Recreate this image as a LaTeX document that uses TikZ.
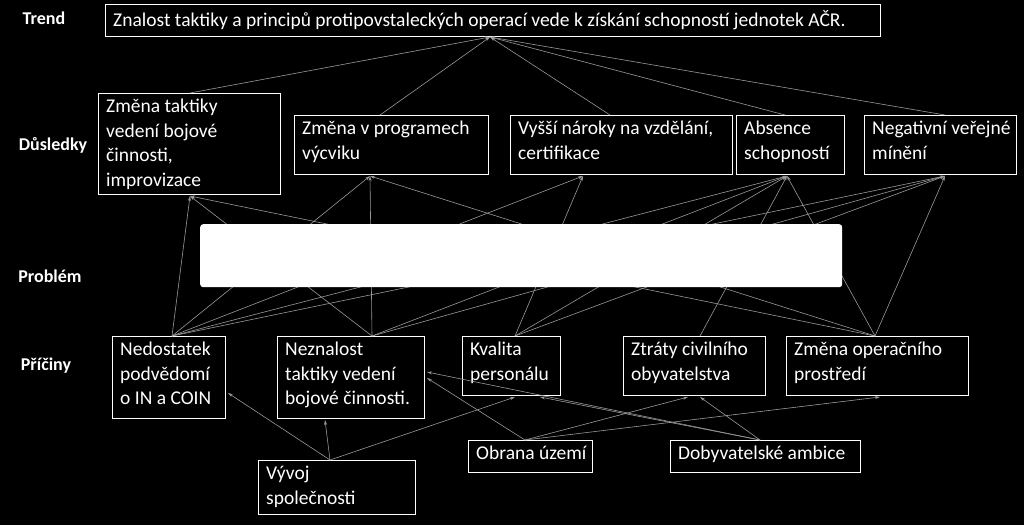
\documentclass[tikz,border=0pt]{standalone}
\usepackage{fontspec}
\setmainfont{Carlito}
\usetikzlibrary{arrows.meta}
\begin{document}
\begin{tikzpicture}[x=1pt,y=-1pt,
  txt/.style={text=white,align=left,anchor=north west,inner sep=0pt,font=\fontsize{19.5}{24.5}\selectfont},
  lbl/.style={text=white,font=\fontsize{18}{20}\selectfont\bfseries},
  ar/.style={draw=gray!80,line width=0.6pt,-{Stealth[length=5pt,width=3pt]}}]
\fill[black] (0,0) rectangle (1024,525);
\useasboundingbox (0,0) rectangle (1024,525);
\def\mkbox#1#2#3#4#5#6{\draw[white,line width=1pt] (#2,#3) rectangle (#4,#5); \node[txt] (#1) at (#2+8,#3+6) {#6};}
\mkbox{T}{105}{4}{880}{36}{Znalost taktiky a principů protipovstaleckých operací vede k získání schopností jednotek AČR.}
\mkbox{D1}{98}{93}{280}{194}{Změna taktiky\\vedení bojové\\činnosti,\\improvizace}
\mkbox{D2}{294}{115}{488}{174}{Změna v programech\\výcviku}
\mkbox{D3}{510}{115}{732}{174}{Vyšší nároky na vzdělání,\\certifikace}
\mkbox{D4}{736}{115}{844}{174}{Absence\\schopností}
\mkbox{D5}{864}{115}{1016}{174}{Negativní veřejné\\mínění}
\mkbox{C1}{112}{336}{225}{418}{Nedostatek\\podvědomí\\o IN a COIN}
\mkbox{C2}{277}{336}{424}{418}{Neznalost\\taktiky vedení\\bojové činnosti.}
\mkbox{C3}{462}{336}{560}{395}{Kvalita\\personálu}
\mkbox{C4}{623}{336}{765}{395}{Ztráty civilního\\obyvatelstva}
\mkbox{C5}{786}{336}{968}{395}{Změna operačního\\prostředí}
\mkbox{B1}{468}{440}{592}{472}{Obrana území}
\mkbox{B2}{670}{440}{860}{472}{Dobyvatelské ambice}
\mkbox{B3}{258}{460}{415}{514}{Vývoj\\společnosti}
\node[lbl] (lT) at (44,18) {Trend};
\node[lbl] (lD) at (53,145) {Důsledky};
\node[lbl] (lP) at (50,276) {Problém};
\node[lbl] (lC) at (46,366) {Příčiny};
\coordinate (Tb) at (490,37);
\coordinate (d1t) at (190,93);\coordinate (d2t) at (380,115);\coordinate (d3t) at (610,115);\coordinate (d4t) at (785,115);\coordinate (d5t) at (945,115);
\coordinate (d1b) at (190,196);\coordinate (d2b) at (370,176);\coordinate (d3b) at (583,176);\coordinate (d4b) at (787,176);\coordinate (d5b) at (945,176);
\coordinate (c1t) at (172,336);\coordinate (c2t) at (372,336);\coordinate (c3t) at (515,336);\coordinate (c4t) at (700,336);\coordinate (c5t) at (875,336);
\foreach \a in {d1t,d2t,d3t,d4t,d5t} \draw[ar] (\a) -- (Tb);
\foreach \a/\b in {c1t/d1b,c1t/d2b,c1t/d3b,c1t/d4b,c1t/d5b,c2t/d1b,c2t/d2b,c2t/d4b,c2t/d5b,c3t/d3b,c3t/d4b,c3t/d5b,c4t/d4b,c5t/d1b,c5t/d2b,c5t/d4b,c5t/d5b}
  \draw[ar] (\a) -- (\b);
\coordinate (b3t) at (330,460);\coordinate (b1t) at (525,440);\coordinate (b2t) at (760,440);
\draw[ar] (b3t) -- (228,393);
\draw[ar] (b3t) -- (325,420);
\draw[ar] (b3t) -- (515,397);
\draw[ar] (b1t) -- (427,378);
\draw[ar] (b1t) -- (688,397);
\draw[ar] (b1t) -- (880,397);
\draw[ar] (b2t) -- (427,372);
\draw[ar] (b2t) -- (540,397);
\draw[ar] (b2t) -- (700,397);
\node[fill=white,rounded corners=3pt,minimum width=642,minimum height=63,anchor=north west,inner sep=0pt] (P) at (200,224) {};
\end{tikzpicture}
\end{document}
